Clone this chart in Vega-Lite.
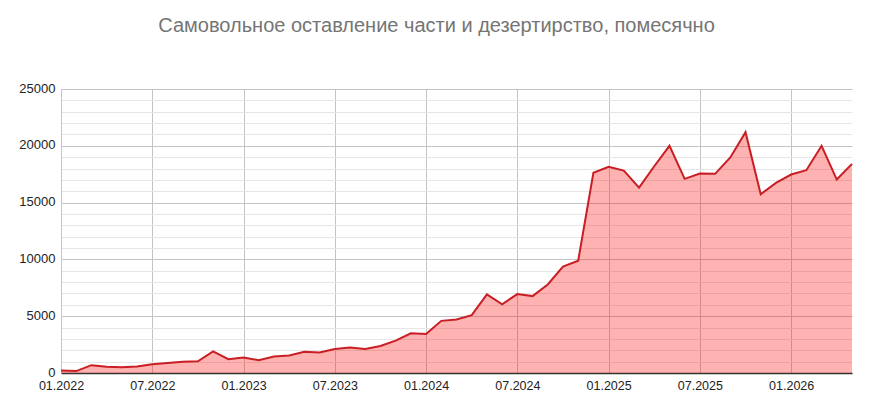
{
  "$schema": "https://vega.github.io/schema/vega-lite/v6.json",
  "width": 791,
  "height": 284,
  "autosize": {"type": "none"},
  "padding": {"left": 61, "top": 89, "right": 21, "bottom": 41},
  "background": "white",
  "title": {
    "text": "Самовольное оставление части и дезертирство, помесячно",
    "font": "Liberation Sans",
    "fontSize": 20,
    "fontWeight": "normal",
    "color": "#757575",
    "anchor": "middle",
    "offset": 46,
    "dx": -20
  },
  "data": {
    "values": [
      {"month": "01.2022", "value": 230},
      {"month": "02.2022", "value": 170},
      {"month": "03.2022", "value": 690},
      {"month": "04.2022", "value": 560},
      {"month": "05.2022", "value": 500},
      {"month": "06.2022", "value": 570},
      {"month": "07.2022", "value": 770},
      {"month": "08.2022", "value": 890},
      {"month": "09.2022", "value": 1000},
      {"month": "10.2022", "value": 1030},
      {"month": "11.2022", "value": 1900},
      {"month": "12.2022", "value": 1210},
      {"month": "01.2023", "value": 1360},
      {"month": "02.2023", "value": 1130},
      {"month": "03.2023", "value": 1450},
      {"month": "04.2023", "value": 1540},
      {"month": "05.2023", "value": 1860},
      {"month": "06.2023", "value": 1800},
      {"month": "07.2023", "value": 2120},
      {"month": "08.2023", "value": 2240},
      {"month": "09.2023", "value": 2120},
      {"month": "10.2023", "value": 2380},
      {"month": "11.2023", "value": 2850},
      {"month": "12.2023", "value": 3490},
      {"month": "01.2024", "value": 3430},
      {"month": "02.2024", "value": 4590},
      {"month": "03.2024", "value": 4710},
      {"month": "04.2024", "value": 5090},
      {"month": "05.2024", "value": 6920},
      {"month": "06.2024", "value": 6050},
      {"month": "07.2024", "value": 6950},
      {"month": "08.2024", "value": 6770},
      {"month": "09.2024", "value": 7790},
      {"month": "10.2024", "value": 9360},
      {"month": "11.2024", "value": 9880},
      {"month": "12.2024", "value": 17620},
      {"month": "01.2025", "value": 18150},
      {"month": "02.2025", "value": 17820},
      {"month": "03.2025", "value": 16320},
      {"month": "04.2025", "value": 18200},
      {"month": "05.2025", "value": 20000},
      {"month": "06.2025", "value": 17090},
      {"month": "07.2025", "value": 17560},
      {"month": "08.2025", "value": 17530},
      {"month": "09.2025", "value": 18970},
      {"month": "10.2025", "value": 21200},
      {"month": "11.2025", "value": 15740},
      {"month": "12.2025", "value": 16740},
      {"month": "01.2026", "value": 17470},
      {"month": "02.2026", "value": 17850},
      {"month": "03.2026", "value": 20000},
      {"month": "04.2026", "value": 17030},
      {"month": "05.2026", "value": 18410}
    ]
  },
  "encoding": {
    "x": {
      "field": "month",
      "type": "ordinal",
      "sort": null,
      "scale": {"type": "point", "padding": 0},
      "axis": {
        "title": null,
        "values": ["01.2022", "07.2022", "01.2023", "07.2023", "01.2024", "07.2024", "01.2025", "07.2025", "01.2026"],
        "labelAngle": 0,
        "labelFont": "Liberation Sans",
        "labelFontSize": 12.5,
        "labelColor": "#222222",
        "labelPadding": 6,
        "ticks": false,
        "grid": true,
        "gridColor": "#c4c4c4",
        "domainColor": "#333333",
        "domainWidth": 1.5
      }
    },
    "y": {
      "field": "value",
      "type": "quantitative",
      "scale": {"domain": [0, 25000], "nice": false},
      "axis": {
        "title": null,
        "values": [0, 1000, 2000, 3000, 4000, 5000, 6000, 7000, 8000, 9000, 10000, 11000, 12000, 13000, 14000, 15000, 16000, 17000, 18000, 19000, 20000, 21000, 22000, 23000, 24000, 25000],
        "format": "d",
        "labelExpr": "datum.value % 5000 === 0 ? datum.label : ''",
        "labelFont": "Liberation Sans",
        "labelFontSize": 13,
        "labelColor": "#222222",
        "labelPadding": 6,
        "labelOffset": -1,
        "ticks": false,
        "gridColor": {
          "condition": {"test": "datum.value % 5000 === 0", "value": "#c4c4c4"},
          "value": "#e6e6e6"
        },
        "domainColor": "#c4c4c4"
      }
    }
  },
  "layer": [
    {"mark": {"type": "area", "color": "#ff0000", "opacity": 0.3}},
    {"mark": {"type": "line", "color": "#c81e24", "strokeWidth": 2}}
  ],
  "config": {"view": {"stroke": null}}
}
